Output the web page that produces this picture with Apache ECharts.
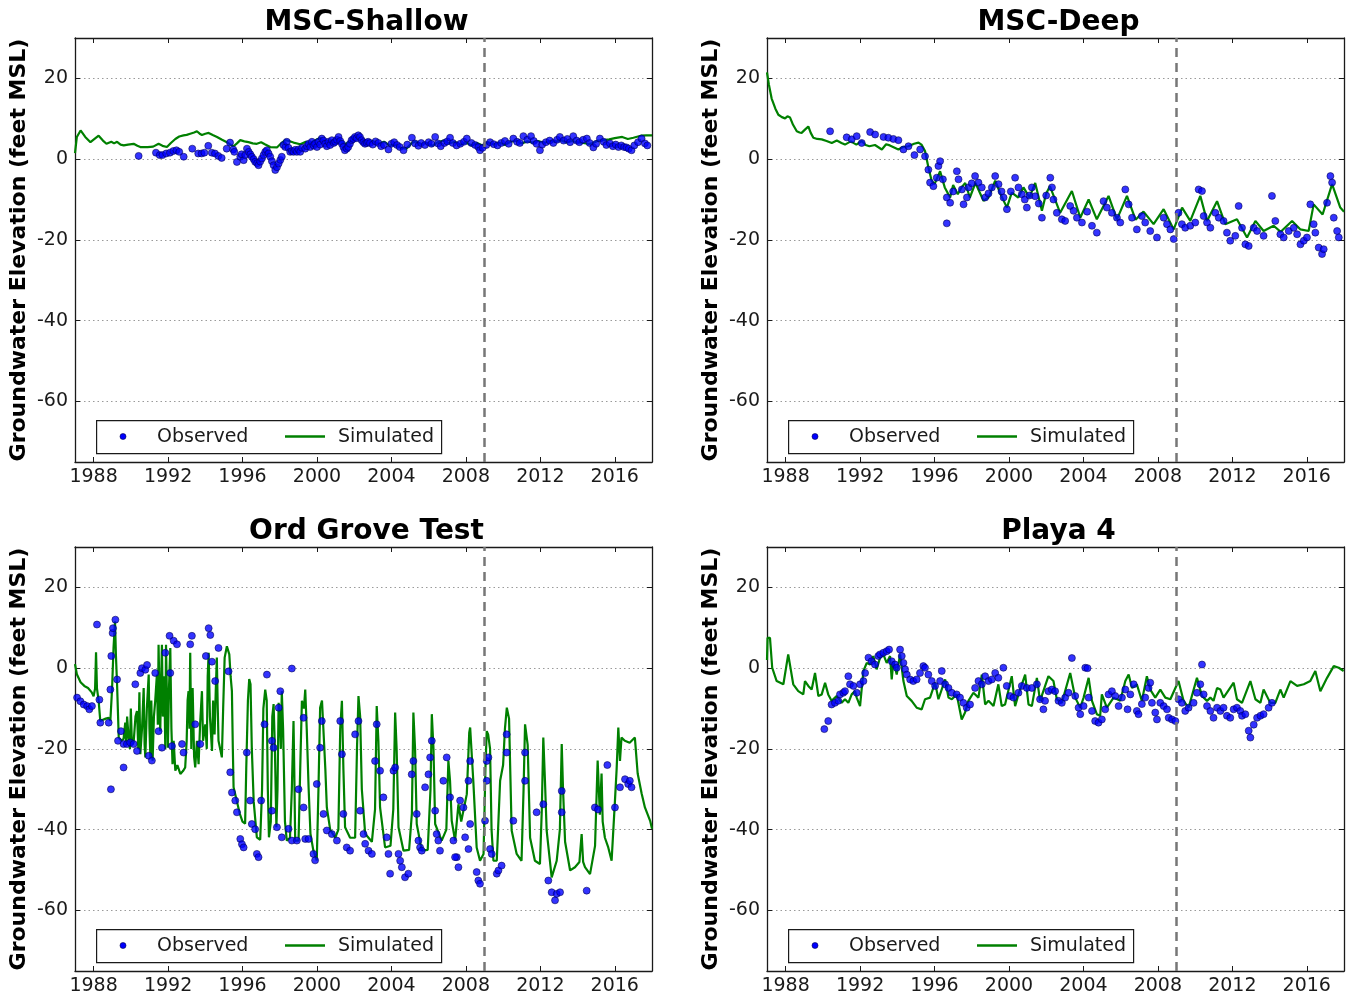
<!DOCTYPE html>
<html>
<head>
<meta charset="utf-8">
<script src="https://cdn.jsdelivr.net/npm/echarts@6/dist/echarts.min.js"></script>
<style>
html,body{margin:0;padding:0;background:#fff;}
#chart{width:1350px;height:998px;}
</style>
</head>
<body>
<div id="chart"></div>
<script>
// ---------------- DATA ----------------
const titles = ['MSC-Shallow', 'MSC-Deep', 'Ord Grove Test', 'Playa 4'];
const yearTicks = [1988, 1992, 1996, 2000, 2004, 2008, 2012, 2016];
const elevTicks = [-60, -40, -20, 0, 20];
const calibrationEnd = 2009;
const legendNames = ['Observed', 'Simulated'];
const yAxisTitle = 'Groundwater Elevation (feet MSL)';

const shallowSim = [[1987.0,1.5],[1987.1,5.5],[1987.3,7.1],[1987.55,5.5],[1987.83,4.2],[1988.05,5.0],[1988.27,5.8],[1988.5,4.6],[1988.69,3.8],[1988.95,4.3],[1989.1,3.9],[1989.26,4.3],[1989.45,3.6],[1989.62,3.4],[1989.85,3.6],[1990.15,3.8],[1990.35,3.3],[1990.51,3.0],[1990.9,3.0],[1991.2,3.1],[1991.49,3.8],[1991.7,3.3],[1991.94,3.0],[1992.15,4.0],[1992.39,5.0],[1992.6,5.6],[1992.83,5.9],[1993.0,6.0],[1993.19,6.3],[1993.4,6.6],[1993.55,6.9],[1993.7,6.3],[1993.82,6.0],[1994.0,6.3],[1994.18,6.5],[1994.4,6.0],[1994.63,5.5],[1994.9,4.8],[1995.16,4.2],[1995.35,3.6],[1995.52,3.2],[1995.7,3.9],[1995.88,4.7],[1996.1,4.4],[1996.32,4.2],[1996.55,3.9],[1996.77,3.8],[1997.0,4.2],[1997.2,3.7],[1997.49,3.0],[1997.85,2.9],[1998.05,3.8],[1998.29,4.7],[1998.5,4.5],[1998.74,4.1],[1999.1,3.7],[1999.4,4.3],[1999.64,4.0],[1999.9,4.6],[2000.17,5.3],[2000.4,4.3],[2000.6,4.6],[2000.89,3.8],[2001.2,4.9],[2001.5,3.7],[2001.78,4.4],[2002.1,5.1],[2002.4,4.5],[2002.7,3.9],[2003.0,4.5],[2003.3,3.8],[2003.6,4.3],[2003.9,3.4],[2004.2,3.5],[2004.5,2.8],[2004.8,2.6],[2005.1,4.0],[2005.3,4.4],[2005.6,3.7],[2005.9,4.0],[2006.2,3.3],[2006.5,4.2],[2006.8,4.6],[2007.1,3.9],[2007.4,4.3],[2007.7,3.5],[2008.0,4.1],[2008.3,3.4],[2008.6,4.0],[2008.9,3.4],[2009.2,4.2],[2009.5,3.6],[2009.8,4.1],[2010.1,3.5],[2010.4,4.3],[2010.7,4.6],[2011.0,3.9],[2011.3,4.4],[2011.6,4.1],[2011.9,4.5],[2012.2,4.0],[2012.5,4.5],[2012.8,4.3],[2013.1,4.7],[2013.4,4.1],[2013.7,4.5],[2014.0,4.2],[2014.3,4.0],[2014.6,3.8],[2014.8,3.9],[2015.1,4.6],[2015.4,4.7],[2015.7,4.9],[2016.0,5.2],[2016.4,5.5],[2016.7,5.0],[2017.0,5.3],[2017.4,5.8],[2017.7,5.9],[2018.0,5.9]];

const shallowObs = [[1990.42,0.8],[1991.35,1.6],[1991.55,1.0],[1991.7,1.0],[1991.9,1.4],[1992.1,1.6],[1992.28,2.0],[1992.45,2.2],[1992.6,1.8],[1992.84,0.6],[1993.3,2.6],[1993.62,1.4],[1993.8,1.4],[1993.95,1.6],[1994.16,3.3],[1994.35,1.6],[1994.52,1.4],[1994.7,0.8],[1994.88,0.3],[1995.15,2.6],[1995.33,4.1],[1995.5,2.4],[1995.56,1.8],[1995.7,-0.7],[1995.88,0.6],[1995.95,1.2],[1996.06,-0.25],[1996.15,1.0],[1996.24,2.6],[1996.33,1.8],[1996.42,1.2],[1996.5,0.6],[1996.6,0.0],[1996.68,-0.65],[1996.78,-1.0],[1996.86,-1.5],[1996.95,-0.6],[1997.04,0.16],[1997.13,1.0],[1997.22,1.8],[1997.31,2.2],[1997.4,1.4],[1997.49,0.6],[1997.58,-0.5],[1997.67,-1.5],[1997.76,-2.7],[1997.85,-2.0],[1997.94,-1.1],[1998.03,-0.2],[1998.11,0.6],[1998.2,3.5],[1998.3,3.0],[1998.38,4.3],[1998.47,2.8],[1998.56,1.8],[1998.65,2.0],[1998.74,1.8],[1998.83,2.3],[1998.92,1.8],[1999.01,2.4],[1999.1,1.8],[1999.2,2.8],[1999.37,2.6],[1999.46,3.2],[1999.55,3.8],[1999.64,3.0],[1999.73,4.3],[1999.82,3.4],[1999.9,3.8],[2000.0,3.0],[2000.08,4.3],[2000.17,3.6],[2000.26,5.1],[2000.35,4.6],[2000.44,3.8],[2000.53,3.2],[2000.62,4.3],[2000.71,3.5],[2000.8,4.7],[2000.9,4.0],[2000.98,4.3],[2001.07,4.8],[2001.16,5.5],[2001.25,4.5],[2001.34,3.8],[2001.42,3.0],[2001.5,2.2],[2001.6,2.6],[2001.68,3.0],[2001.77,3.8],[2001.86,4.7],[2001.95,5.0],[2002.04,5.5],[2002.13,5.2],[2002.22,5.9],[2002.31,5.5],[2002.4,4.7],[2002.49,4.2],[2002.58,3.8],[2002.67,4.0],[2002.75,4.3],[2002.85,4.0],[2003.0,3.6],[2003.15,4.4],[2003.3,4.0],[2003.45,3.2],[2003.6,3.5],[2003.84,2.4],[2004.0,3.8],[2004.15,4.2],[2004.3,3.5],[2004.45,3.0],[2004.65,2.2],[2004.85,3.6],[2005.1,5.3],[2005.27,3.9],[2005.45,3.3],[2005.6,4.0],[2005.8,3.5],[2006.0,4.2],[2006.15,3.8],[2006.35,5.5],[2006.5,3.9],[2006.65,3.2],[2006.85,4.0],[2007.0,4.4],[2007.15,5.3],[2007.3,4.0],[2007.5,3.4],[2007.7,3.8],[2007.9,4.3],[2008.05,5.1],[2008.3,4.0],[2008.5,3.5],[2008.67,3.0],[2008.76,2.2],[2008.9,2.8],[2009.1,3.5],[2009.3,4.2],[2009.5,3.7],[2009.7,3.4],[2009.9,4.0],[2010.1,4.5],[2010.3,3.8],[2010.55,5.1],[2010.75,4.3],[2010.9,4.0],[2011.09,5.7],[2011.3,4.8],[2011.5,5.7],[2011.65,4.5],[2011.8,3.8],[2011.98,2.2],[2012.1,3.6],[2012.3,4.2],[2012.5,4.6],[2012.7,4.0],[2012.9,4.8],[2013.05,5.5],[2013.25,4.6],[2013.45,5.0],[2013.6,4.2],[2013.77,5.7],[2013.95,4.6],[2014.1,4.2],[2014.3,4.8],[2014.5,5.1],[2014.65,4.0],[2014.85,2.9],[2015.0,3.8],[2015.2,5.1],[2015.4,4.3],[2015.55,3.5],[2015.74,3.9],[2015.9,3.2],[2016.05,3.6],[2016.2,3.0],[2016.35,3.4],[2016.5,3.0],[2016.63,2.9],[2016.75,2.6],[2016.9,2.2],[2017.05,3.4],[2017.25,4.2],[2017.44,5.1],[2017.62,3.9],[2017.75,3.4]];

const deepSim = [[1987.0,21.5],[1987.1,18.5],[1987.25,15],[1987.45,12.5],[1987.61,11],[1987.8,10.4],[1987.97,10.1],[1988.1,10.6],[1988.24,10.3],[1988.4,8.5],[1988.6,6.9],[1988.75,6.6],[1988.86,6.5],[1989.04,7.3],[1989.22,8.1],[1989.35,6.5],[1989.49,5.3],[1989.7,5.0],[1989.94,4.9],[1990.2,4.5],[1990.48,4.0],[1990.75,4.6],[1991.0,4.0],[1991.19,3.6],[1991.5,4.4],[1991.8,3.6],[1992.09,4.5],[1992.3,3.5],[1992.5,3.2],[1992.8,3.5],[1993.17,2.4],[1993.4,3.7],[1993.6,3.4],[1994.06,2.4],[1994.3,3.0],[1994.6,3.2],[1994.9,3.8],[1995.14,4.1],[1995.3,3.6],[1995.49,2.0],[1995.67,-2],[1995.85,-5.4],[1996.0,-6.2],[1996.3,-3.0],[1996.55,-7.0],[1996.84,-9.5],[1997.0,-6.4],[1997.25,-8.7],[1997.45,-7.0],[1997.65,-5.9],[1997.9,-9.5],[1998.2,-5.9],[1998.63,-10.3],[1998.9,-9.5],[1999.26,-5.3],[1999.55,-8.7],[1999.89,-12],[2000.15,-8.3],[2000.5,-9.5],[2000.78,-7.0],[2001.1,-9.5],[2001.41,-5.9],[2001.77,-12.8],[2002.0,-8.5],[2002.2,-6.7],[2002.75,-13.3],[2003.38,-7.9],[2003.83,-14.5],[2004.28,-10],[2004.72,-14.9],[2005.35,-9.1],[2005.8,-14.9],[2006.34,-9.1],[2006.8,-15],[2007.23,-13],[2007.77,-16.1],[2008.31,-12.4],[2008.85,-17.4],[2009.3,-12],[2009.74,-15.3],[2010.28,-9.1],[2010.64,-15.3],[2011.18,-10.4],[2011.62,-16.1],[2012.25,-14.9],[2012.79,-19.4],[2013.24,-15.3],[2013.68,-17.8],[2014.22,-16.5],[2014.6,-18],[2015.21,-15.3],[2015.66,-17.4],[2016.1,-17.8],[2016.37,-11.2],[2016.85,-13.7],[2017.36,-6.2],[2017.8,-12],[2018.0,-13]];

const deepObs = [[1990.39,6.9],[1991.28,5.4],[1991.55,4.9],[1991.82,5.7],[1992.09,4.0],[1992.54,6.7],[1992.81,6.1],[1993.26,5.5],[1993.52,5.3],[1993.79,5.0],[1994.06,4.7],[1994.33,2.4],[1994.6,3.2],[1994.92,1.0],[1995.23,2.4],[1995.49,0.7],[1995.67,-2.6],[1995.76,-5.8],[1995.94,-6.7],[1996.12,-4.6],[1996.21,-1.7],[1996.3,-0.5],[1996.45,-5],[1996.66,-15.9],[1996.66,-9.5],[1996.84,-10.8],[1997.0,-8],[1997.2,-3.0],[1997.29,-5.0],[1997.47,-7.5],[1997.56,-11.2],[1997.74,-9.5],[1997.83,-7.0],[1998.0,-6],[1998.18,-4.2],[1998.36,-5.8],[1998.54,-7.0],[1998.72,-9.5],[1998.9,-8.5],[1999.08,-7.0],[1999.26,-4.2],[1999.44,-6.2],[1999.6,-8],[1999.71,-9.5],[1999.89,-12.4],[2000.1,-8],[2000.33,-4.6],[2000.51,-7.0],[2000.69,-8.7],[2000.85,-10],[2000.96,-12.0],[2001.1,-9],[2001.23,-7.0],[2001.41,-9.2],[2001.6,-11],[2001.77,-14.5],[2002.0,-9],[2002.22,-4.6],[2002.31,-7.0],[2002.39,-10],[2002.57,-13.3],[2002.84,-14.9],[2003.02,-15.3],[2003.29,-11.6],[2003.47,-12.8],[2003.65,-14.5],[2003.92,-15.7],[2004.2,-13],[2004.46,-16.5],[2004.72,-18.2],[2005.08,-10.4],[2005.26,-12.0],[2005.53,-13.3],[2005.8,-14.5],[2005.98,-15.7],[2006.25,-7.5],[2006.43,-11.2],[2006.61,-14.5],[2006.87,-17.4],[2007.14,-14.1],[2007.32,-15.7],[2007.59,-17.8],[2007.95,-19.4],[2008.31,-14.5],[2008.49,-16.1],[2008.67,-17.4],[2008.85,-19.8],[2009.11,-13.3],[2009.29,-16.1],[2009.47,-17],[2009.74,-16.5],[2010.01,-15.7],[2010.19,-7.5],[2010.37,-7.9],[2010.46,-14.1],[2010.64,-15.7],[2010.82,-17],[2011.09,-13.3],[2011.27,-14.5],[2011.53,-15.3],[2011.71,-18.2],[2011.89,-20.2],[2012.16,-19.0],[2012.34,-11.6],[2012.52,-17],[2012.7,-21.1],[2012.88,-21.5],[2013.15,-17],[2013.33,-17.8],[2013.68,-19.0],[2014.13,-9.1],[2014.31,-15.3],[2014.58,-18.6],[2014.76,-19.4],[2015.03,-17.8],[2015.3,-17],[2015.48,-18.6],[2015.66,-21.1],[2015.84,-20.2],[2016.01,-19.4],[2016.19,-11.2],[2016.37,-16.1],[2016.46,-18.2],[2016.64,-21.9],[2016.82,-23.5],[2016.91,-22.3],[2017.09,-10.8],[2017.27,-4.2],[2017.36,-5.8],[2017.45,-14.5],[2017.63,-17.8],[2017.72,-19.4]];

const ordSim = [[1987.0,1.0],[1987.1,-1.5],[1987.3,-3.5],[1987.5,-4.4],[1987.7,-4.9],[1987.9,-6],[1988.0,-7],[1988.08,-5],[1988.13,3.9],[1988.18,-5],[1988.27,-8.1],[1988.36,-13.1],[1988.5,-12.8],[1988.65,-12.5],[1988.81,-12.3],[1988.9,-13],[1988.99,-5.3],[1989.07,5],[1989.15,11.6],[1989.2,3],[1989.26,-4.0],[1989.35,-17.2],[1989.5,-18],[1989.61,-17.5],[1989.7,-13.5],[1989.75,-19],[1989.8,-12],[1989.88,-17.2],[1989.95,-20],[1990.0,-10],[1990.06,-19],[1990.15,-18.4],[1990.25,-12],[1990.33,-10.6],[1990.4,-20],[1990.46,-6],[1990.51,-21.3],[1990.6,-15],[1990.69,-4.9],[1990.74,-19],[1990.78,-22.1],[1990.86,-10],[1990.96,-1.6],[1991.0,-15],[1991.05,-22.1],[1991.1,-8],[1991.17,-22.9],[1991.24,-12],[1991.31,-8.1],[1991.4,-1.6],[1991.45,-14],[1991.49,5.8],[1991.55,-10],[1991.58,-15.6],[1991.63,-3],[1991.67,5.8],[1991.72,-12],[1991.77,-2],[1991.81,-5.7],[1991.85,-20],[1991.89,5.8],[1991.95,-10],[1991.99,-19.7],[1992.05,-5],[1992.12,5.0],[1992.18,-15],[1992.24,-23.8],[1992.3,-18],[1992.39,-25.4],[1992.5,-24],[1992.66,-26.2],[1992.8,-25.5],[1992.92,-24.6],[1993.0,-18],[1993.05,-8],[1993.1,-5.7],[1993.15,-15],[1993.19,3.8],[1993.25,-20],[1993.32,-4.9],[1993.4,-22],[1993.46,-24.6],[1993.55,-18],[1993.64,-23.8],[1993.72,-14],[1993.82,-5.7],[1993.88,-18],[1994.0,-13.9],[1994.08,-20],[1994.13,-2],[1994.18,3.8],[1994.25,-12],[1994.36,-20.5],[1994.42,-8],[1994.5,-16.4],[1994.56,-6],[1994.62,2.6],[1994.67,-10],[1994.71,-18],[1994.8,-20],[1994.89,-22.1],[1994.96,-10],[1995.04,2.6],[1995.1,4],[1995.16,5.4],[1995.22,5.2],[1995.29,3.4],[1995.36,-2],[1995.43,-5.7],[1995.48,-20],[1995.52,-29.5],[1995.7,-33],[1995.85,-36],[1996.0,-38],[1996.14,-38.5],[1996.2,-25],[1996.29,-8],[1996.36,-2.7],[1996.43,-4],[1996.5,-20],[1996.6,-33],[1996.77,-41.9],[1996.95,-42.5],[1997.05,-30],[1997.12,-10],[1997.22,-5.3],[1997.3,-8],[1997.36,-30],[1997.42,-41.9],[1997.52,-38],[1997.6,-12],[1997.67,-8.9],[1997.74,-20],[1997.82,-39.4],[1997.88,-30],[1997.94,-8.6],[1998.0,-12],[1998.06,-20],[1998.11,-5.7],[1998.18,-15],[1998.28,-38],[1998.38,-42.7],[1998.55,-42],[1998.65,-30],[1998.74,-13.1],[1998.78,-25],[1998.83,-42.7],[1999.01,-42.7],[1999.1,-25],[1999.19,-8.1],[1999.3,-10],[1999.37,-5.3],[1999.45,-15],[1999.55,-29.5],[1999.65,-41],[1999.8,-45],[1999.99,-47.6],[2000.08,-30],[2000.17,-9.8],[2000.27,-8],[2000.35,-7.7],[2000.45,-25],[2000.53,-34.5],[2000.71,-40],[2000.98,-42],[2001.15,-40],[2001.25,-15],[2001.34,-8.1],[2001.42,-25],[2001.51,-39.4],[2001.78,-42],[2002.05,-42],[2002.15,-20],[2002.23,-6.9],[2002.32,-12],[2002.41,-30],[2002.59,-41],[2002.95,-43],[2003.12,-35],[2003.21,-9.4],[2003.3,-18],[2003.39,-34.5],[2003.66,-44.4],[2003.95,-44],[2004.1,-35],[2004.2,-11.0],[2004.28,-20],[2004.38,-39.4],[2004.65,-45.2],[2004.95,-45],[2005.1,-36],[2005.18,-11.0],[2005.27,-20],[2005.36,-38.6],[2005.63,-45.2],[2005.95,-45],[2006.1,-30],[2006.17,-11.4],[2006.26,-20],[2006.35,-38.6],[2006.7,-42.7],[2006.95,-40],[2007.06,-22.9],[2007.15,-28],[2007.24,-37.8],[2007.42,-42.7],[2007.6,-33.7],[2007.75,-38],[2008.05,-31.2],[2008.18,-16],[2008.23,-14.7],[2008.3,-15],[2008.4,-28],[2008.58,-44.4],[2008.76,-47.7],[2008.95,-46],[2009.05,-25],[2009.12,-15.6],[2009.2,-16.5],[2009.3,-20],[2009.38,-40],[2009.48,-47.7],[2009.66,-47.7],[2009.84,-27.9],[2010.0,-24],[2010.1,-15],[2010.2,-9.8],[2010.32,-12.5],[2010.46,-40.2],[2010.73,-46],[2010.99,-47.7],[2011.1,-30],[2011.18,-13.9],[2011.32,-19],[2011.45,-42],[2011.71,-47.7],[2011.98,-48.5],[2012.08,-35],[2012.16,-17.2],[2012.25,-28],[2012.34,-40.2],[2012.61,-51.8],[2012.88,-47.7],[2013.05,-40],[2013.15,-18.8],[2013.22,-30],[2013.33,-43],[2013.6,-50.1],[2013.86,-49.3],[2014.1,-48],[2014.22,-41.1],[2014.3,-48],[2014.4,-49.3],[2014.67,-51],[2014.94,-44],[2015.08,-22.9],[2015.2,-36.3],[2015.29,-26.1],[2015.35,-38],[2015.47,-42],[2015.65,-44.4],[2015.83,-47.7],[2016.01,-32.8],[2016.1,-25],[2016.19,-14.7],[2016.28,-23],[2016.36,-17.2],[2016.54,-18],[2016.8,-18.5],[2017.08,-17.2],[2017.23,-26.1],[2017.44,-31],[2017.62,-34.5],[2017.9,-37.8],[2018.0,-39.8]];

const ordObs = [[1987.11,-7.3],[1987.29,-8.2],[1987.47,-9.0],[1987.65,-9.4],[1987.77,-10.2],[1987.91,-9.4],[1988.18,10.8],[1988.31,-7.8],[1988.36,-13.5],[1988.81,-13.5],[1988.9,-5.3],[1988.95,3.0],[1988.93,-30.0],[1989.02,8.7],[1989.04,9.9],[1989.17,12.0],[1989.26,-2.8],[1989.31,-18.0],[1989.47,-15.6],[1989.61,-24.6],[1989.61,-18.8],[1989.79,-18.8],[1989.97,-18.4],[1990.15,-18.8],[1990.24,-4.0],[1990.33,-20.5],[1990.51,-1.2],[1990.6,0.0],[1990.78,-0.4],[1990.87,0.8],[1990.96,-21.7],[1991.13,-22.9],[1991.31,-1.2],[1991.49,-15.6],[1991.67,-19.7],[1991.85,3.8],[1992.08,8.0],[1992.12,-1.2],[1992.21,-19.3],[1992.3,6.8],[1992.48,5.9],[1992.75,-18.8],[1992.83,-20.9],[1993.19,5.9],[1993.28,8.0],[1993.46,-13.9],[1993.73,-18.8],[1994.03,3.0],[1994.18,9.9],[1994.27,8.2],[1994.36,1.6],[1994.53,-3.2],[1994.71,5.0],[1995.25,-0.8],[1995.34,-25.8],[1995.43,-30.8],[1995.61,-32.8],[1995.7,-35.7],[1995.88,-42.3],[1995.97,-43.6],[1996.06,-44.4],[1996.23,-20.9],[1996.41,-32.8],[1996.5,-38.6],[1996.68,-39.9],[1996.77,-46.0],[1996.86,-46.8],[1997.0,-32.8],[1997.18,-13.9],[1997.31,-1.6],[1997.58,-18.0],[1997.67,-19.7],[1997.58,-35.3],[1997.85,-39.4],[1998.11,-41.9],[1998.03,-5.7],[1997.94,-9.8],[1998.47,-39.8],[1998.65,-42.7],[1998.65,-0.1],[1998.92,-42.7],[1999.01,-30.0],[1999.28,-34.5],[1999.28,-12.3],[1999.37,-42.3],[1999.55,-42.3],[1999.81,-46.0],[1999.9,-47.6],[1999.99,-28.7],[2000.17,-19.7],[2000.26,-13.1],[2000.35,-36.1],[2000.53,-40.2],[2000.8,-41.1],[2001.07,-42.7],[2001.25,-13.1],[2001.34,-21.3],[2001.42,-36.1],[2001.6,-44.4],[2001.78,-45.2],[2002.05,-16.4],[2002.23,-13.1],[2002.32,-35.3],[2002.5,-41.1],[2002.59,-43.5],[2002.77,-45.2],[2002.95,-46.0],[2003.12,-23.0],[2003.21,-13.9],[2003.39,-25.4],[2003.57,-32.0],[2003.75,-41.9],[2003.84,-46.0],[2003.93,-50.9],[2004.11,-25.4],[2004.2,-24.6],[2004.38,-46.0],[2004.47,-47.7],[2004.56,-49.3],[2004.73,-51.8],[2004.91,-50.9],[2005.09,-26.3],[2005.18,-23.0],[2005.36,-36.1],[2005.45,-42.7],[2005.54,-44.4],[2005.63,-45.2],[2005.81,-29.5],[2005.99,-26.3],[2006.08,-22.1],[2006.17,-18.0],[2006.35,-35.3],[2006.43,-41.1],[2006.52,-42.7],[2006.61,-45.2],[2006.79,-27.9],[2006.97,-22.1],[2007.15,-32.0],[2007.33,-42.7],[2007.51,-46.8],[2007.6,-49.3],[2007.42,-46.8],[2007.69,-32.8],[2007.87,-34.5],[2007.96,-41.9],[2008.14,-44.8],[2008.23,-38.6],[2008.23,-23.0],[2008.14,-27.9],[2008.58,-50.5],[2008.67,-52.6],[2008.76,-53.4],[2009.03,-37.8],[2009.12,-27.9],[2009.12,-23.0],[2009.21,-22.1],[2009.3,-44.8],[2009.39,-46.0],[2009.66,-50.9],[2009.75,-50.1],[2009.92,-48.9],[2010.19,-16.4],[2010.19,-20.9],[2010.55,-37.8],[2011.18,-20.9],[2011.18,-27.9],[2011.8,-35.7],[2012.16,-33.7],[2012.43,-52.6],[2012.61,-55.5],[2012.79,-57.5],[2012.88,-55.9],[2013.06,-55.5],[2013.15,-35.7],[2013.15,-30.4],[2014.49,-55.1],[2014.93,-34.5],[2015.1,-35],[2015.6,-24],[2016.01,-34.5],[2016.28,-29.5],[2016.55,-27.5],[2016.72,-28.7],[2016.81,-27.9],[2016.9,-29.5]];

const playaSim = [[1987.0,2.0],[1987.03,7.5],[1987.16,7.5],[1987.28,0.1],[1987.52,-3.2],[1987.88,-4.0],[1988.14,3.4],[1988.23,3.8],[1988.41,-4.0],[1988.68,-5.7],[1988.95,-6.5],[1989.04,-3.2],[1989.22,-4.4],[1989.4,-5.3],[1989.58,-1.2],[1989.76,-6.9],[1989.94,-6.5],[1990.12,-3.6],[1990.29,-6.5],[1990.47,-8.1],[1990.74,-6.9],[1991.01,-8.6],[1991.19,-7.7],[1991.37,-8.6],[1991.55,-6.5],[1991.73,-5.7],[1991.82,-7.3],[1992.0,-9.4],[1992.18,-0.7],[1992.36,1.3],[1992.54,0.9],[1992.71,3.0],[1992.89,-0.3],[1993.07,2.5],[1993.25,3.4],[1993.43,1.3],[1993.61,3.0],[1993.7,-2.8],[1993.79,1.7],[1993.97,-1.6],[1994.15,3.4],[1994.33,-3.2],[1994.51,-6.9],[1994.77,-8.1],[1995.04,-9.8],[1995.31,-10.2],[1995.49,-7.7],[1995.76,-7.3],[1996.03,-3.6],[1996.21,-7.7],[1996.57,-2.8],[1996.75,-7.3],[1996.93,-7.7],[1997.19,-6.5],[1997.46,-12.7],[1997.64,-11.0],[1997.82,-8.1],[1998.09,-6.1],[1998.36,-7.3],[1998.54,-1.6],[1998.72,-9.0],[1998.9,-8.1],[1999.17,-9.4],[1999.43,-4.0],[1999.61,-9.4],[1999.79,-9.0],[2000.15,-2.0],[2000.33,-9.4],[2000.51,-6.5],[2000.87,-1.6],[2001.05,-9.0],[2001.23,-9.4],[2001.5,-2.4],[2001.67,-8.1],[2002.12,-2.0],[2002.39,-3.2],[2002.57,-7.7],[2002.84,-8.6],[2003.29,-1.2],[2003.56,-7.3],[2003.83,-9.8],[2004.01,-7.3],[2004.28,-2.4],[2004.46,-8.1],[2004.72,-11.4],[2004.9,-11.8],[2004.99,-6.5],[2005.26,-9.8],[2005.62,-7.3],[2005.98,-8.1],[2006.25,-3.2],[2006.43,-1.6],[2006.61,-4.9],[2006.87,-4.0],[2007.14,-8.1],[2007.41,-2.0],[2007.59,-5.3],[2007.86,-7.3],[2008.13,-5.3],[2008.4,-7.3],[2008.67,-7.7],[2009.11,-3.2],[2009.38,-8.1],[2009.65,-9.8],[2010.1,-2.4],[2010.37,-6.9],[2010.64,-8.1],[2010.82,-7.3],[2010.99,-8.1],[2011.18,-4.9],[2011.36,-5.3],[2011.53,-7.3],[2012.07,-3.6],[2012.25,-7.7],[2012.52,-8.6],[2012.97,-3.2],[2013.24,-7.7],[2013.51,-8.6],[2013.68,-5.3],[2014.04,-8.6],[2014.31,-8.6],[2014.58,-5.3],[2014.76,-7.3],[2015.12,-3.2],[2015.48,-4.4],[2015.84,-4.0],[2016.19,-3.2],[2016.46,-0.7],[2016.73,-5.7],[2017.09,-2.4],[2017.45,0.5],[2017.72,0.1],[2017.98,-0.7]];

const playaObs = [[1990.08,-15.1],[1990.29,-13.1],[1990.47,-9.0],[1990.65,-8.6],[1990.83,-8.1],[1990.92,-6.5],[1991.1,-6.1],[1991.19,-5.7],[1991.37,-2.0],[1991.46,-4.0],[1991.64,-4.4],[1991.82,-6.1],[1992.0,-4.0],[1992.18,-3.2],[1992.27,-1.2],[1992.45,2.6],[1992.62,1.7],[1992.8,0.9],[1992.98,3.0],[1993.07,3.4],[1993.25,3.8],[1993.43,4.2],[1993.56,4.6],[1993.7,1.7],[1993.88,0.9],[1993.97,0.1],[1994.15,4.6],[1994.24,3.0],[1994.33,1.3],[1994.42,-0.3],[1994.51,-1.6],[1994.69,-2.8],[1994.86,-3.2],[1995.04,-2.8],[1995.22,-1.2],[1995.4,0.5],[1995.49,0.1],[1995.67,-1.6],[1995.85,-3.2],[1996.03,-4.4],[1996.3,-3.2],[1996.39,-0.7],[1996.57,-4.0],[1996.75,-4.9],[1996.93,-6.1],[1997.19,-6.5],[1997.37,-7.3],[1997.55,-8.6],[1997.73,-9.8],[1997.91,-9.0],[1998.18,-4.9],[1998.36,-3.2],[1998.54,-4.0],[1998.72,-2.0],[1998.9,-3.2],[1999.08,-2.8],[1999.26,-1.2],[1999.43,-2.4],[1999.7,0.1],[1999.88,-4.4],[2000.06,-6.9],[2000.24,-7.3],[2000.51,-6.1],[2000.69,-4.4],[2000.96,-4.9],[2001.23,-4.9],[2001.5,-4.0],[2001.67,-7.7],[2001.85,-10.2],[2001.94,-8.1],[2002.12,-5.7],[2002.3,-5.3],[2002.48,-5.7],[2002.66,-8.1],[2002.84,-8.6],[2003.02,-7.3],[2003.2,-6.1],[2003.38,2.5],[2003.56,-6.9],[2003.74,-9.8],[2003.83,-11.4],[2004.01,-9.4],[2004.1,0.1],[2004.22,0.0],[2004.28,-7.3],[2004.46,-10.6],[2004.63,-13.1],[2004.81,-13.5],[2004.99,-12.7],[2005.17,-10.2],[2005.35,-6.5],[2005.53,-5.7],[2005.71,-6.9],[2005.89,-9.4],[2006.07,-7.3],[2006.25,-5.3],[2006.37,-10.2],[2006.52,-6.5],[2006.7,-4.0],[2006.87,-10.6],[2006.96,-11.4],[2007.14,-8.9],[2007.32,-7.3],[2007.5,-4.9],[2007.59,-3.6],[2007.68,-8.6],[2007.86,-11.0],[2007.95,-12.7],[2008.13,-8.6],[2008.31,-9.4],[2008.49,-10.2],[2008.58,-12.3],[2008.76,-12.7],[2008.94,-13.1],[2009.11,-7.7],[2009.29,-8.6],[2009.47,-10.6],[2009.65,-9.8],[2009.92,-8.6],[2010.1,-6.1],[2010.28,-4.0],[2010.37,0.9],[2010.46,-6.5],[2010.64,-9.4],[2010.82,-10.6],[2010.99,-12.3],[2011.18,-9.8],[2011.36,-10.6],[2011.53,-9.8],[2011.71,-11.8],[2011.89,-12.3],[2012.07,-10.2],[2012.25,-9.8],[2012.43,-10.6],[2012.52,-11.8],[2012.7,-11.4],[2012.88,-15.5],[2012.97,-17.2],[2013.15,-14.0],[2013.33,-12.3],[2013.51,-11.8],[2013.68,-11.4],[2013.95,-9.8],[2014.13,-8.6]];

// ---------------- CHART ----------------
const simSets = [shallowSim, deepSim, ordSim, playaSim];
const obsSets = [shallowObs, deepObs, ordObs, playaObs];

const FONT = "'DejaVu Sans', sans-serif";
const PW = 577, PH = 424;
const gridPos = [{left:75, top:38}, {left:767, top:38}, {left:75, top:547}, {left:767, top:547}];

const grids = [], xAxes = [], yAxes = [], series = [], titleList = [], graphics = [];

gridPos.forEach((g, i) => {
  grids.push({left: g.left, top: g.top, width: PW, height: PH, show: false});
  const baseX = {
    gridIndex: i, type: 'value', min: 1987, max: 2018,
    axisLine: {show: true, onZero: false, lineStyle: {color: '#1a1a1a', width: 1.3}},
    axisTick: {show: true, inside: true, length: 5, customValues: yearTicks, lineStyle: {color: '#1a1a1a'}},
    splitLine: {show: false}
  };
  xAxes.push(Object.assign({}, baseX, {
    position: 'bottom',
    axisLabel: {show: true, customValues: yearTicks, formatter: v => String(v), fontSize: 19, color: '#1a1a1a', fontFamily: FONT, margin: 6}
  }));
  xAxes.push(Object.assign({}, baseX, {position: 'top', axisLabel: {show: false}}));
  const baseY = {
    gridIndex: i, type: 'value', min: -75, max: 30,
    axisLine: {show: true, onZero: false, lineStyle: {color: '#1a1a1a', width: 1.3}},
    axisTick: {show: true, inside: true, length: 5, customValues: elevTicks, lineStyle: {color: '#1a1a1a'}}
  };
  yAxes.push(Object.assign({}, baseY, {
    position: 'left',
    axisLabel: {show: true, customValues: elevTicks, formatter: v => String(v), fontSize: 19, color: '#1a1a1a', fontFamily: FONT, margin: 7},
    splitLine: {show: true, lineStyle: {color: '#9a9a9a', type: [1.5, 3], width: 1}},
    name: yAxisTitle, nameLocation: 'middle', nameRotate: 90, nameGap: 45,
    nameTextStyle: {fontSize: 22, fontWeight: 'bold', color: '#000', fontFamily: FONT}
  }));
  yAxes.push(Object.assign({}, baseY, {position: 'right', axisLabel: {show: false}, splitLine: {show: false}}));

  series.push({
    type: 'line', name: legendNames[1], xAxisIndex: 2*i, yAxisIndex: 2*i,
    data: simSets[i], showSymbol: false, symbol: 'none', z: 2,
    lineStyle: {color: '#008000', width: 2.2}, animation: false
  });
  series.push({
    type: 'scatter', name: legendNames[0], xAxisIndex: 2*i, yAxisIndex: 2*i,
    data: obsSets[i], symbol: 'circle', symbolSize: 7, z: 3,
    itemStyle: {color: '#0000ff', borderColor: '#00004d', borderWidth: 0.7},
    animation: false,
    markLine: {
      silent: true, symbol: ['none', 'none'], label: {show: false},
      lineStyle: {color: '#777777', type: [9, 6], width: 2.5},
      data: [{xAxis: calibrationEnd}], animation: false
    }
  });

  titleList.push({
    text: titles[i], left: g.left + PW / 2 - 2, top: g.top - 34, textAlign: 'center',
    textStyle: {fontSize: 28, fontWeight: 'bold', color: '#000', fontFamily: FONT}
  });

  const lx = g.left + 21, ly = g.top + PH - 42;
  graphics.push(
    {type: 'rect', left: lx, top: ly, shape: {width: 345, height: 33}, style: {fill: '#fff', stroke: '#1a1a1a', lineWidth: 1.2}, z: 10},
    {type: 'circle', shape: {cx: lx + 27, cy: ly + 16.5, r: 3}, style: {fill: '#0000ff', stroke: '#00004d', lineWidth: 0.6}, z: 11},
    {type: 'text', x: lx + 61, y: ly + 17, style: {text: legendNames[0], fontSize: 19, fontFamily: FONT, fill: '#1a1a1a', verticalAlign: 'middle'}, z: 11},
    {type: 'line', shape: {x1: lx + 189, y1: ly + 16.5, x2: lx + 229, y2: ly + 16.5}, style: {stroke: '#008000', lineWidth: 2.5}, z: 11},
    {type: 'text', x: lx + 242, y: ly + 17, style: {text: legendNames[1], fontSize: 19, fontFamily: FONT, fill: '#1a1a1a', verticalAlign: 'middle'}, z: 11}
  );
});

const chart = echarts.init(document.getElementById('chart'), null, {renderer: 'canvas'});
chart.setOption({
  backgroundColor: '#ffffff',
  animation: false,
  title: titleList,
  grid: grids,
  xAxis: xAxes,
  yAxis: yAxes,
  series: series,
  graphic: graphics
});
</script>
</body>
</html>
